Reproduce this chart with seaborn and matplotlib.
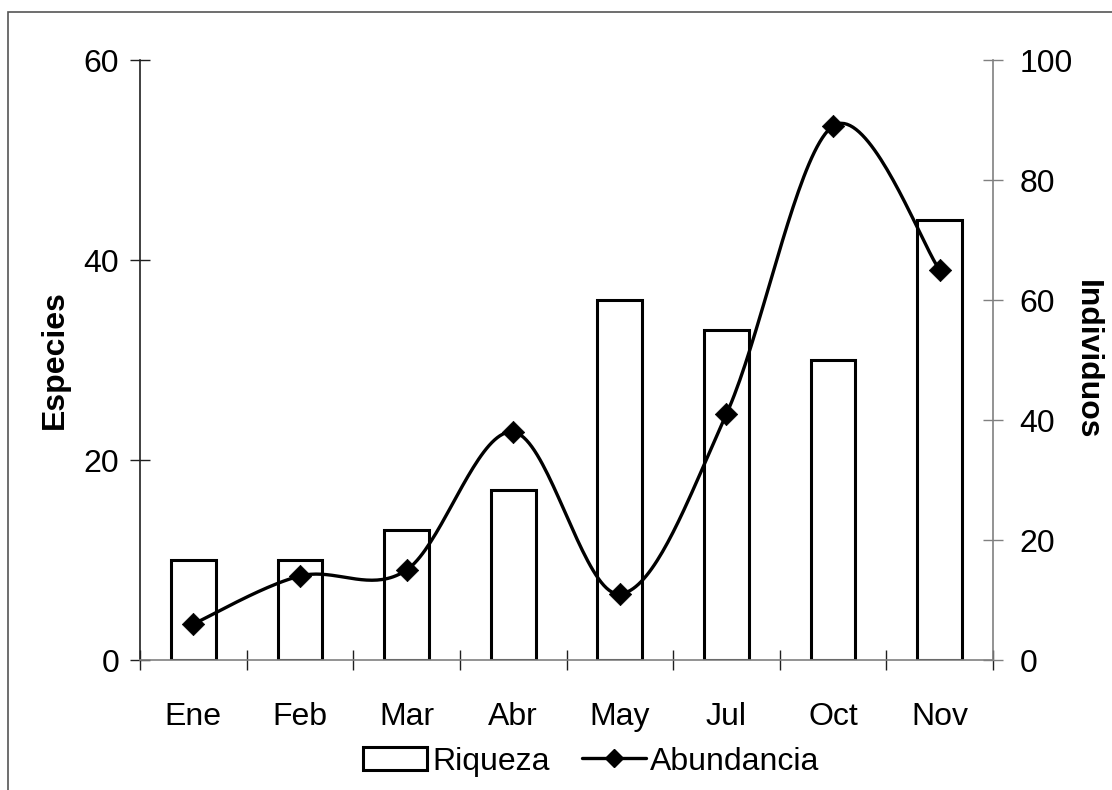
import numpy as np
import pandas as pd
import matplotlib
matplotlib.use("Agg")
import matplotlib.pyplot as plt
from matplotlib.patches import Rectangle
from matplotlib.lines import Line2D
from matplotlib.ticker import MultipleLocator, FixedLocator
import seaborn as sns

# Monthly sampling results
meses = ["Ene", "Feb", "Mar", "Abr", "May", "Jul", "Oct", "Nov"]
riqueza = [10, 10, 13, 17, 36, 33, 30, 44]          # species (left axis)
abundancia = [6, 14, 15, 38, 11, 41, 89, 65]         # individuals (right axis)

sns.set_theme(style="white")
plt.rcParams["font.family"] = ["Liberation Sans", "DejaVu Sans"]
plt.rcParams["text.color"] = "black"
plt.rcParams["axes.labelcolor"] = "black"
plt.rcParams["xtick.color"] = "black"
plt.rcParams["ytick.color"] = "black"
FS = 23

fig = plt.figure(figsize=(11.12, 7.90), dpi=100)
ax = fig.add_axes([140 / 1112, 1 - 660 / 790, (993 - 140) / 1112, 600 / 790])

# Bars: species richness
df_bar = pd.DataFrame({"mes": meses, "riqueza": riqueza})
sns.barplot(data=df_bar, x="mes", y="riqueza", ax=ax, width=0.42,
            color="white", edgecolor="black", linewidth=2.2, saturation=1)
ax.set_xlim(-0.5, len(meses) - 0.5)
ax.set_ylim(0, 60)
ax.yaxis.set_major_locator(MultipleLocator(20))

# Smoothed abundance curve (Catmull-Rom through the monthly values)
def catmull_rom(xs, ys, n=40):
    p = np.column_stack([xs, ys]).astype(float)
    p = np.vstack([p[0], p, p[-1]])
    out = []
    t = np.linspace(0, 1, n, endpoint=False)
    for i in range(1, len(p) - 2):
        p0, p1, p2, p3 = p[i - 1], p[i], p[i + 1], p[i + 2]
        t2, t3 = t ** 2, t ** 3
        seg = 0.5 * ((2 * p1)[None, :]
                     + np.outer(t, -p0 + p2)
                     + np.outer(t2, 2 * p0 - 5 * p1 + 4 * p2 - p3)
                     + np.outer(t3, -p0 + 3 * p1 - 3 * p2 + p3))
        out.append(seg)
    out.append(p[-2][None, :])
    return np.vstack(out)

ax2 = ax.twinx()
idx = np.arange(len(meses))
curve = catmull_rom(idx, abundancia)
df_curve = pd.DataFrame({"x": curve[:, 0], "y": curve[:, 1]})
sns.lineplot(data=df_curve, x="x", y="y", ax=ax2, sort=False,
             color="black", linewidth=2.4, estimator=None)
df_pts = pd.DataFrame({"x": idx, "abundancia": abundancia})
sns.scatterplot(data=df_pts, x="x", y="abundancia", ax=ax2, marker="D",
                s=130, color="black", edgecolor="black", linewidth=0.5, zorder=5)
ax2.set_ylim(0, 100)
ax2.set_xlim(-0.5, len(meses) - 0.5)
ax2.yaxis.set_major_locator(MultipleLocator(20))

# Axis styling
for a in (ax, ax2):
    a.spines["top"].set_visible(False)
    a.grid(False)
ax.spines["right"].set_visible(False)
ax2.spines["left"].set_visible(False)
ax2.spines["bottom"].set_visible(False)
ax.spines["left"].set_color("#202020")
ax.spines["bottom"].set_color("#808080")
ax2.spines["right"].set_color("#808080")
for s in ("left", "bottom"):
    ax.spines[s].set_linewidth(1.2)
ax2.spines["right"].set_linewidth(1.2)

ax.tick_params(axis="y", direction="inout", length=14, width=1.0,
               color="#202020", labelcolor="black", labelsize=FS, pad=8, left=True)
ax2.tick_params(axis="y", direction="inout", length=14, width=1.0,
                color="#808080", labelcolor="black", labelsize=FS, pad=12, right=True)
ax.xaxis.set_minor_locator(FixedLocator(np.arange(-0.5, len(meses), 1.0)))
ax.tick_params(axis="x", which="major", length=0, labelsize=FS,
               labelcolor="black", pad=30)
ax.tick_params(axis="x", which="minor", direction="inout", length=14,
               width=1.0, color="#202020", bottom=True)

ax.set_xlabel("")
ax2.set_xlabel("")
ax.set_ylabel("Especies", fontsize=FS, fontweight="bold", color="black",
              va="center", ha="center")
ax.yaxis.set_label_coords(-0.0997, 0.5)
ax2.set_ylabel("Individuos", fontsize=FS, fontweight="bold", color="black",
               rotation=-90, va="center", ha="center")
ax2.yaxis.set_label_coords(1.110, 0.5)

# Legend below the plot
h_bar = Rectangle((0, 0), 1, 1, facecolor="white", edgecolor="black", linewidth=2.2)
h_line = Line2D([], [], color="black", linewidth=2.4, marker="D", markersize=9)
fig.legend([h_bar, h_line], ["Riqueza", "Abundancia"], loc="center",
           bbox_to_anchor=(0.532, 0.036), ncol=2, frameon=False, fontsize=FS,
           handlelength=2.0, handletextpad=0.15, columnspacing=1.0)

# Outer chart frame
fig.patches.append(Rectangle((8 / 1112, -0.05), 1.1, 1 - 12 / 790 + 0.05,
                             transform=fig.transFigure, fill=False,
                             edgecolor="#555555", linewidth=1.2))

fig.savefig("out.png", dpi=100)
